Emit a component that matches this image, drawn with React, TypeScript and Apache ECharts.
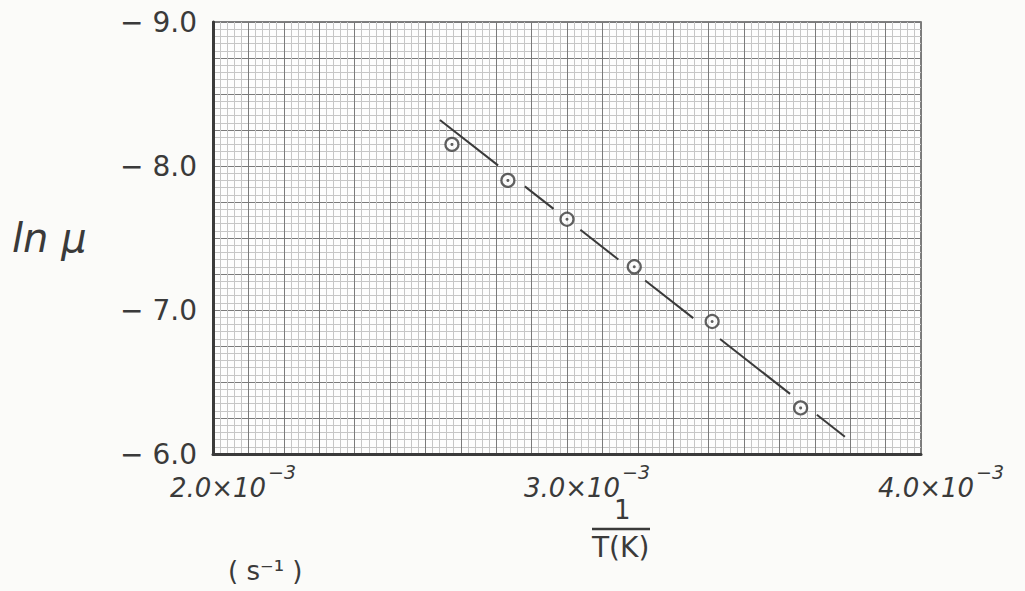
import React, { useEffect, useRef } from "react";
import * as echarts from "echarts";

// Data
const invT = [2.675e-3, 2.833e-3, 3.0e-3, 3.19e-3, 3.41e-3, 3.66e-3];
const lnMu = [-8.15, -7.9, -7.63, -7.3, -6.92, -6.32];
// hand-drawn fit line end points
const fitX = [2.641e-3, 3.785e-3];
const fitY = [-8.32, -6.12];
// whether the drawn line is broken around each point
const fitBreaks = [false, true, true, true, true, true];
const xTickLabels = ["2.0", "3.0", "4.0"];
const yTickLabels = ["-9.0", "-8.0", "-7.0", "-6.0"];

const X_MIN = 0.002, X_MAX = 0.004, Y_MIN = -9, Y_MAX = -6;
const G = { left: 213, top: 22, width: 708, height: 432 };
const INK = "#3a3a3a";

function fitSegments(): number[][][] {
  const toPx = (x: number, y: number) => [
    ((x - X_MIN) / (X_MAX - X_MIN)) * G.width,
    ((y - Y_MIN) / (Y_MAX - Y_MIN)) * G.height,
  ];
  const a = toPx(fitX[0], fitY[0]);
  const b = toPx(fitX[1], fitY[1]);
  const dx = b[0] - a[0], dy = b[1] - a[1];
  const L = Math.hypot(dx, dy);
  const gaps: [number, number][] = [];
  invT.forEach((x, i) => {
    if (!fitBreaks[i]) return;
    const p = toPx(x, lnMu[i]);
    const t = ((p[0] - a[0]) * dx + (p[1] - a[1]) * dy) / (L * L);
    const h = 17 / L;
    gaps.push([t - h, t + h]);
  });
  gaps.sort((m, n) => m[0] - n[0]);
  const segs: number[][][] = [];
  let start = 0;
  const at = (t: number) => [
    fitX[0] + (fitX[1] - fitX[0]) * t,
    fitY[0] + (fitY[1] - fitY[0]) * t,
  ];
  for (const [g0, g1] of gaps) {
    if (g0 > start) segs.push([at(start), at(Math.min(g0, 1))]);
    start = Math.max(start, g1);
  }
  if (start < 1) segs.push([at(start), at(1)]);
  return segs;
}

export default function App() {
  const ref = useRef<HTMLDivElement>(null);
  useEffect(() => {
    if (!ref.current) return;
    const chart = echarts.init(ref.current, null, { renderer: "svg" });
    const font = "'DejaVu Sans', sans-serif";
    const segSeries = fitSegments().map((s) => ({
      type: "line",
      data: s,
      showSymbol: false,
      symbol: "none",
      lineStyle: { color: INK, width: 2 },
      z: 3,
    }));
    chart.setOption({
      animation: false,
      backgroundColor: "#fbfbf9",
      grid: {
        left: G.left,
        top: G.top,
        width: G.width,
        height: G.height,
        show: true,
        backgroundColor: "#fdfdfd",
        borderColor: "#555",
        borderWidth: 1.5,
      },
      xAxis: {
        type: "value",
        min: X_MIN,
        max: X_MAX,
        interval: 0.0001,
        axisLine: { show: true, onZero: false, lineStyle: { color: INK, width: 3 } },
        axisTick: { show: false },
        splitLine: { show: true, lineStyle: { color: "#7a7a7a", width: 1 } },
        minorTick: { show: false, splitNumber: 5 },
        minorSplitLine: { show: true, lineStyle: { color: "#c6c6c6", width: 1 } },
        axisLabel: {
          margin: 8,
          padding: [0, 0, 0, 40],
          formatter: (v: number) => {
            const k = v * 1000;
            if (Math.abs(k - Math.round(k)) > 1e-6) return "";
            const idx = Math.round(k) - 2;
            const lbl = xTickLabels[idx];
            if (!lbl) return "";
            return `{a|${lbl}×10}{s|−3}`;
          },
          rich: {
            a: { fontFamily: font, fontStyle: "italic", fontSize: 26, color: INK, verticalAlign: "bottom" },
            s: { fontFamily: font, fontStyle: "italic", fontSize: 19, color: INK, verticalAlign: "top", padding: [0, 0, 20, 2] },
          },
        },
      },
      yAxis: {
        type: "value",
        inverse: true,
        min: Y_MIN,
        max: Y_MAX,
        interval: 0.25,
        axisLine: { show: true, onZero: false, lineStyle: { color: INK, width: 3 } },
        axisTick: { show: false },
        splitLine: { show: true, lineStyle: { color: "#7a7a7a", width: 1 } },
        minorTick: { show: false, splitNumber: 5 },
        minorSplitLine: { show: true, lineStyle: { color: "#c6c6c6", width: 1 } },
        axisLabel: {
          margin: 16,
          fontFamily: font,
          fontSize: 28,
          color: INK,
          formatter: (v: number) => {
            if (Math.abs(v - Math.round(v)) > 1e-6) return "";
            const idx = Math.round(v) - Y_MIN;
            const lbl = yTickLabels[idx];
            return lbl ? lbl.replace("-", "− ") : "";
          },
        },
      },
      graphic: [
        {
          type: "text",
          left: 12,
          top: 218,
          style: { text: "ln μ", font: `italic 40px ${font}`, fill: INK },
        },
        {
          type: "text",
          left: 614,
          top: 497,
          style: { text: "1", font: `26px ${font}`, fill: INK },
        },
        {
          type: "line",
          shape: { x1: 592, y1: 529, x2: 650, y2: 529 },
          style: { stroke: INK, lineWidth: 2.5 },
        },
        {
          type: "text",
          left: 592,
          top: 533,
          style: { text: "T(K)", font: `28px ${font}`, fill: INK },
        },
        {
          type: "text",
          left: 228,
          top: 558,
          style: { text: "( s⁻¹ )", font: `26px ${font}`, fill: INK },
        },
      ],
      series: [
        ...segSeries,
        {
          type: "scatter",
          data: invT.map((x, i) => [x, lnMu[i]]),
          symbol: "circle",
          symbolSize: 13,
          itemStyle: { color: "#fdfdfd", borderColor: INK, borderWidth: 2.2 },
          z: 4,
        },
        {
          type: "scatter",
          data: invT.map((x, i) => [x, lnMu[i]]),
          symbol: "circle",
          symbolSize: 3,
          itemStyle: { color: INK },
          z: 5,
        },
      ],
    });
    return () => chart.dispose();
  }, []);
  return (
    <div
      ref={ref}
      style={{ position: "fixed", left: 0, top: 0, width: 1025, height: 591 }}
    />
  );
}
